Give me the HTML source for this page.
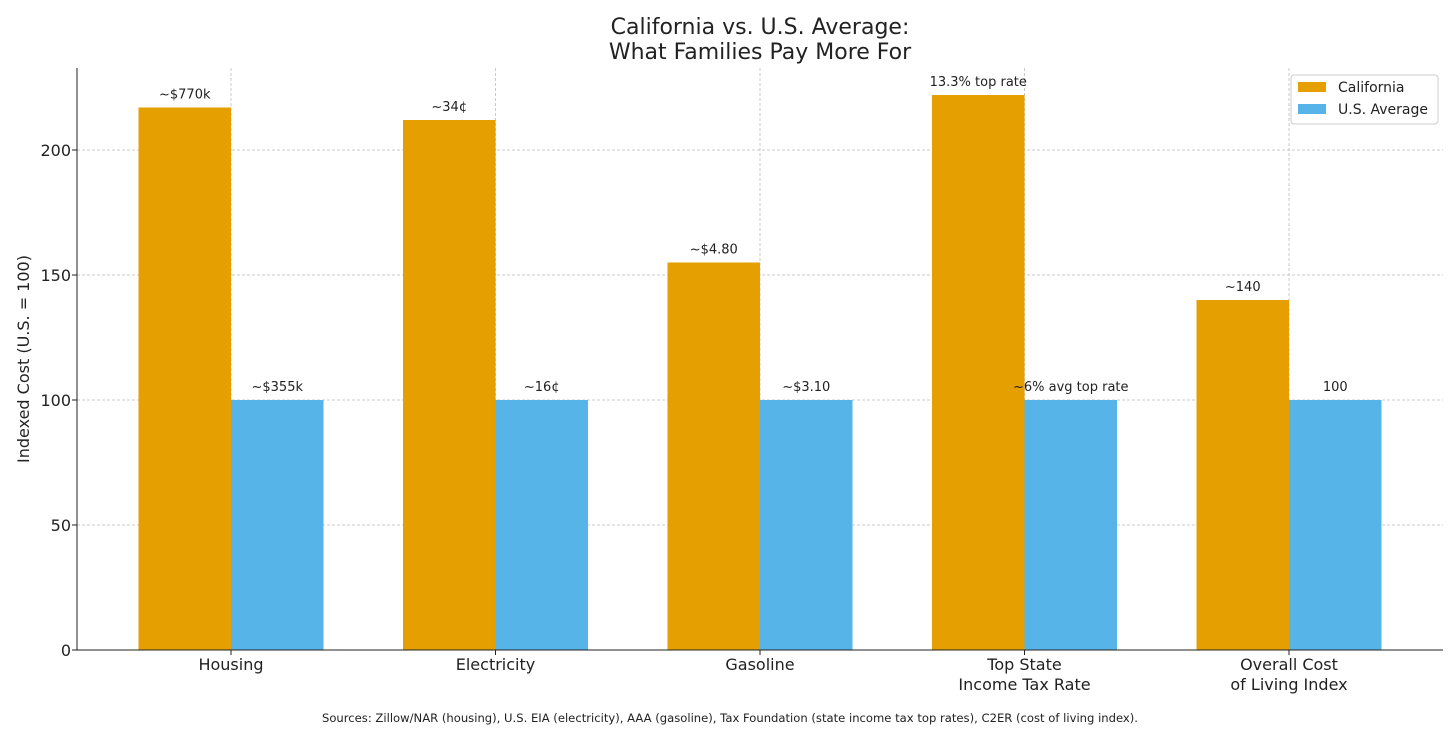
<!DOCTYPE html>
<html><head><meta charset="utf-8"><style>
body{margin:0;background:#fff;font-family:"Liberation Sans","DejaVu Sans",sans-serif}
</style></head><body>
<svg id="chart" width="1456" height="730" xmlns="http://www.w3.org/2000/svg" font-family="DejaVu Sans, Liberation Sans, sans-serif">
<text x="760" y="34" text-anchor="middle" font-size="22" fill="#222">California vs. U.S. Average:</text>
<text x="760" y="59" text-anchor="middle" font-size="22" fill="#222">What Families Pay More For</text>
<g id="grid"></g><g id="bars"></g><g id="labels"></g><g id="axes"></g>
<text transform="translate(29,359) rotate(-90)" text-anchor="middle" font-size="16" fill="#222">Indexed Cost (U.S. = 100)</text>
<g>
<rect x="1291" y="75" width="147" height="49" fill="#fff" stroke="#ccc" rx="3"/>
<rect x="1298" y="82" width="28" height="10" fill="#E69F00"/>
<text x="1338" y="92" font-size="14" fill="#222">California</text>
<rect x="1298" y="104" width="28" height="10" fill="#56B4E9"/>
<text x="1338" y="114" font-size="14" fill="#222">U.S. Average</text>
</g>
<text x="730" y="722" text-anchor="middle" font-size="11.6" fill="#222">Sources: Zillow/NAR (housing), U.S. EIA (electricity), AAA (gasoline), Tax Foundation (state income tax top rates), C2ER (cost of living index).</text>
</svg>
<script>
const categories=[["Housing"],["Electricity"],["Gasoline"],["Top State","Income Tax Rate"],["Overall Cost","of Living Index"]];
const caValues=[217,212,155,222,140];
const usValues=[100,100,100,100,100];
const caLabels=["~$770k","~34¢","~$4.80","13.3% top rate","~140"];
const usLabels=["~$355k","~16¢","~$3.10","~6% avg top rate","100"];
const yTicks=[0,50,100,150,200];
const NS="http://www.w3.org/2000/svg";
const L=77,R=1443,T=68,B=650;
const y=v=>B-v*2.5;
const x=i=>231+i*264.5;
const bw=92.5;
function mk(p,t,a){const e=document.createElementNS(NS,t);for(const k in a)e.setAttribute(k,a[k]);document.getElementById(p).appendChild(e);return e;}
yTicks.forEach(v=>{
 if(v>0){const g=mk('grid','line',{x1:L,x2:R,y1:y(v),y2:y(v),stroke:'#bbb','stroke-dasharray':'3,2','stroke-width':0.8});
 
 }
 const t=mk('axes','text',{x:L-6,y:y(v)+6,'text-anchor':'end','font-size':16,fill:'#222'});t.textContent=v;
 
 
 mk('axes','line',{x1:L-5,x2:L,y1:y(v),y2:y(v),stroke:'#222'});
});
categories.forEach((c,i)=>{
 const g=mk('grid','line',{x1:x(i),x2:x(i),y1:T,y2:B,stroke:'#bbb','stroke-dasharray':'3,2','stroke-width':0.8});
 
 
 const b1=mk('bars','rect',{x:x(i)-bw,y:y(caValues[i]),width:bw,height:B-y(caValues[i]),fill:'#E69F00'});
 
 
 const b2=mk('bars','rect',{x:x(i),y:y(usValues[i]),width:bw,height:B-y(usValues[i]),fill:'#56B4E9'});
 
 
 const l1=mk('labels','text',{x:x(i)-bw/2,y:y(caValues[i])-9,'text-anchor':'middle','font-size':13,fill:'#222'});l1.textContent=caLabels[i];
 
 
 const l2=mk('labels','text',{x:x(i)+bw/2,y:y(usValues[i])-9,'text-anchor':'middle','font-size':13,fill:'#222'});l2.textContent=usLabels[i];
 
 
 mk('axes','line',{x1:x(i),x2:x(i),y1:B,y2:B+5,stroke:'#222'});
 c.forEach((s,j)=>{const t=mk('axes','text',{x:x(i),y:B+20+j*20,'text-anchor':'middle','font-size':16,fill:'#222'});t.textContent=s;
 
 });
});
mk('axes','line',{x1:L,x2:L,y1:T,y2:B,stroke:'#222'});
mk('axes','line',{x1:L,x2:R,y1:B,y2:B,stroke:'#222'});
</script>
</body></html>
